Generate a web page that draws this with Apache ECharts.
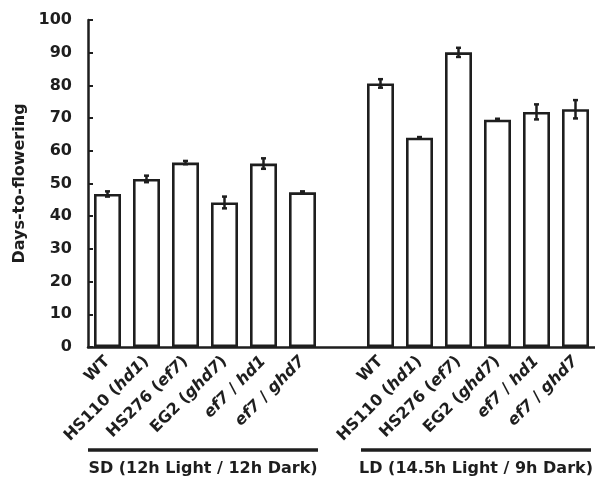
<!DOCTYPE html>
<html>
<head>
<meta charset="utf-8">
<script src="https://cdn.jsdelivr.net/npm/echarts@6/dist/echarts.min.js"></script>
<style>
html, body { margin: 0; padding: 0; background: #fff; }
#chart { width: 595px; height: 482px; }
</style>
</head>
<body>
<div id="chart"></div>
<script>
// strains, same order in both day-length groups
var strains = ['WT', 'HS110 (hd1)', 'HS276 (ef7)', 'EG2 (ghd7)', 'ef7 / hd1', 'ef7 / ghd7'];
var sdDays = [46.8, 51.4, 56.4, 44.2, 56.1, 47.3];
var sdErr = [0.8, 1.0, 0.5, 1.8, 1.6, 0.3];
var ldDays = [80.6, 64.0, 90.1, 69.5, 71.9, 72.7];
var ldErr = [1.3, 0.2, 1.4, 0.3, 2.3, 2.8];
var groupNames = ['SD (12h Light / 12h Dark)', 'LD (14.5h Light / 9h Dark)'];
var yName = 'Days-to-flowering';

var ink = '#1e1e1e';
var font = 'DejaVu Sans';

// one empty slot between the two groups
var categories = strains.map(function (s) { return 'SD:' + s; })
    .concat(['gap'], strains.map(function (s) { return 'LD:' + s; }));
var days = sdDays.concat(['-'], ldDays);
var errs = sdErr.concat([null], ldErr);
var errData = [];
days.forEach(function (v, i) {
    if (v !== '-') errData.push([i, v - errs[i], v + errs[i]]);
});

var chart = echarts.init(document.getElementById('chart'));

var option = {
    animation: false,
    grid: { left: 88, right: 0, top: 20, bottom: 135 },
    xAxis: {
        type: 'category',
        data: categories,
        axisLine: { lineStyle: { color: ink, width: 2.5 } },
        axisTick: { inside: true, length: 4, lineStyle: { color: ink, width: 2 } },
        axisLabel: {
            interval: 0,
            rotate: 45,
            margin: 12,
            color: ink,
            fontFamily: font,
            fontWeight: 'bold',
            fontSize: 16,
            formatter: function (val) {
                if (val === 'gap') return '';
                return val.slice(3).replace(/(hd1|ef7|ghd7)/g, '{i|$1}');
            },
            rich: {
                i: { fontStyle: 'italic', fontWeight: 'bold', fontSize: 16, fontFamily: font, color: ink }
            }
        }
    },
    yAxis: {
        type: 'value',
        min: 0,
        max: 100,
        interval: 10,
        name: yName,
        nameLocation: 'middle',
        nameGap: 60,
        nameRotate: 90,
        nameTextStyle: { color: ink, fontFamily: font, fontWeight: 'bold', fontSize: 16 },
        axisLine: { show: true, lineStyle: { color: ink, width: 2.5 } },
        axisTick: { show: true, inside: true, length: 5, lineStyle: { color: ink, width: 2 } },
        axisLabel: { margin: 16, color: ink, fontFamily: font, fontWeight: 'bold', fontSize: 16 },
        splitLine: { show: false }
    },
    series: [
        {
            type: 'bar',
            data: days,
            barWidth: 27,
            itemStyle: { color: '#fff', borderColor: ink, borderWidth: 2.6 }
        },
        {
            type: 'custom',
            data: errData,
            encode: { x: 0, y: [1, 2] },
            z: 5,
            renderItem: function (params, api) {
                var x = api.value(0);
                var lo = api.coord([x, api.value(1)]);
                var hi = api.coord([x, api.value(2)]);
                var cap = 2.5;
                var style = { stroke: ink, lineWidth: 2.5 };
                return {
                    type: 'group',
                    children: [
                        { type: 'line', shape: { x1: lo[0], y1: lo[1], x2: hi[0], y2: hi[1] }, style: style },
                        { type: 'line', shape: { x1: lo[0] - cap, y1: lo[1], x2: lo[0] + cap, y2: lo[1] }, style: style },
                        { type: 'line', shape: { x1: hi[0] - cap, y1: hi[1], x2: hi[0] + cap, y2: hi[1] }, style: style }
                    ]
                };
            }
        }
    ]
};
chart.setOption(option);

// group underlines and captions, placed from the axis
var c0 = chart.convertToPixel({ xAxisIndex: 0 }, 0);
var band = chart.convertToPixel({ xAxisIndex: 0 }, 1) - c0;
var graphics = [];
[[0, 5], [7, 12]].forEach(function (g, k) {
    var x1 = chart.convertToPixel({ xAxisIndex: 0 }, g[0]) - band / 2;
    var x2 = chart.convertToPixel({ xAxisIndex: 0 }, g[1]) + 15.5;
    graphics.push({
        type: 'line',
        shape: { x1: x1, y1: 450, x2: x2, y2: 450 },
        style: { stroke: ink, lineWidth: 3.5 }
    });
    graphics.push({
        type: 'text',
        x: (x1 + x2) / 2,
        y: 469,
        style: {
            text: groupNames[k],
            fill: ink,
            font: 'bold 16px "' + font + '"',
            textAlign: 'center',
            textVerticalAlign: 'middle'
        }
    });
});
chart.setOption({ graphic: graphics });
</script>
</body>
</html>
